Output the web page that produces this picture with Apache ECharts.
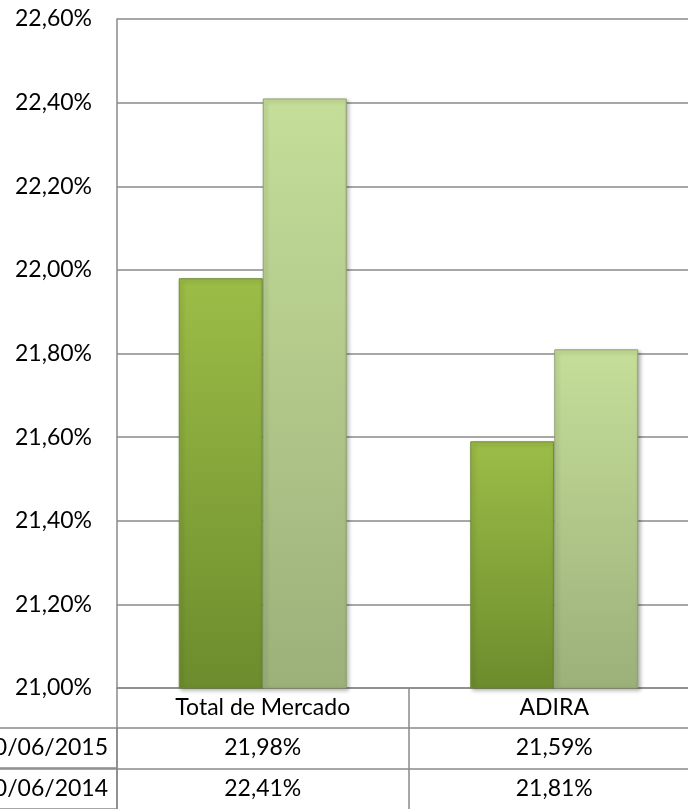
<!DOCTYPE html>
<html>
<head>
<meta charset="utf-8">
<script src="https://cdn.jsdelivr.net/npm/echarts@6/dist/echarts.min.js"></script>
<style>
  html, body { margin: 0; padding: 0; background: #fff; }
  #chart { width: 688px; height: 809px; }
</style>
</head>
<body>
<div id="chart"></div>
<script>
const categories = ['Total de Mercado', 'ADIRA'];
const seriesNames = ['30/06/2015', '30/06/2014'];
const values2015 = [21.98, 21.59];
const values2014 = [22.41, 21.81];

const fmt = v => v.toFixed(2).replace('.', ',') + '%';
const font = 'Lato, "Open Sans", sans-serif';
const fontSize = 23;
const lineColor = '#8a8a8a';

const grad = (top, bottom) => new echarts.graphic.LinearGradient(0, 0, 0, 1, [
  { offset: 0, color: top },
  { offset: 1, color: bottom }
]);

// one x axis per table row; the row header sits in the axis name box
const tableAxis = (data, offset, name, tickLen) => ({
  type: 'category',
  data: data,
  position: 'bottom',
  offset: offset,
  axisLine: { show: true, lineStyle: { color: lineColor, width: 1.5 } },
  axisTick: { show: true, inside: false, length: tickLen, alignWithLabel: false,
              lineStyle: { color: lineColor, width: 1.5 } },
  axisLabel: { color: '#000', fontSize: fontSize, fontFamily: font, margin: 8, interval: 0 },
  name: name,
  nameLocation: 'start',
  nameGap: 0,
  nameTextStyle: name ? {
    color: '#000', fontSize: fontSize, fontFamily: font,
    align: 'right', verticalAlign: 'top',
    width: 150, height: 40, lineHeight: 40,
    padding: [0, 9, 0, 0],
    borderColor: lineColor, borderWidth: 1.5
  } : {}
});

const chart = echarts.init(document.getElementById('chart'));
chart.setOption({
  animation: false,
  grid: { left: 117, top: 19, bottom: 121, width: 583, outerBoundsMode: 'none', containLabel: false },
  xAxis: [
    tableAxis(categories, 0, '', 40),
    tableAxis(values2015.map(fmt), 40, seriesNames[0], 41),
    tableAxis(values2014.map(fmt), 81, seriesNames[1], 45)
  ],
  yAxis: {
    type: 'value',
    min: 21,
    max: 22.6,
    interval: 0.2,
    axisLine: { show: true, lineStyle: { color: lineColor, width: 1.5 } },
    axisTick: { show: false },
    splitLine: { lineStyle: { color: lineColor, width: 1.5 } },
    axisLabel: { color: '#000', fontSize: fontSize, fontFamily: font, margin: 25, formatter: fmt }
  },
  series: [
    {
      name: seriesNames[0],
      type: 'bar',
      data: values2015,
      barWidth: 84,
      barGap: '0%',
      itemStyle: {
        color: grad('#9cbd47', '#6c8c2d'),
        borderColor: '#6f8a35',
        borderWidth: 1,
        shadowColor: 'rgba(0,0,0,0.3)',
        shadowBlur: 4,
        shadowOffsetX: 2,
        shadowOffsetY: 2
      }
    },
    {
      name: seriesNames[1],
      type: 'bar',
      data: values2014,
      barWidth: 84,
      itemStyle: {
        color: grad('#c5de99', '#9cb07a'),
        borderColor: '#8fa270',
        borderWidth: 1,
        shadowColor: 'rgba(0,0,0,0.3)',
        shadowBlur: 4,
        shadowOffsetX: 2,
        shadowOffsetY: 2
      }
    }
  ]
});
</script>
</body>
</html>
